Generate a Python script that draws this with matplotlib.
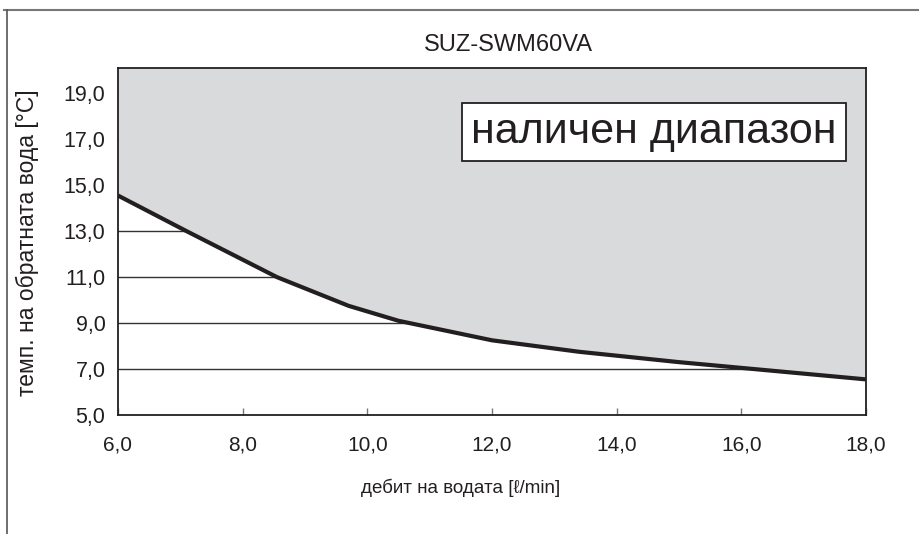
import numpy as np
import matplotlib.pyplot as plt
from matplotlib.lines import Line2D

plt.rcParams['font.family'] = ['Liberation Sans', 'DejaVu Sans']

# boundary of the available range (water flow -> min return water temp)
flow = [6.0, 7.1, 8.55, 9.7, 10.5, 12.0, 13.4, 15.0, 16.0, 18.0]
temp = [14.55, 13.0, 11.0, 9.75, 9.1, 8.25, 7.75, 7.3, 7.05, 6.55]

xticks = [6.0, 8.0, 10.0, 12.0, 14.0, 16.0, 18.0]
yticks = [5.0, 7.0, 9.0, 11.0, 13.0, 15.0, 17.0, 19.0]
ytop = 20.1

title = 'SUZ-SWM60VA'
xlabel = 'дебит на водата [ℓ/min]'
ylabel = 'темп. на обратната вода [°C]'
box_text = 'наличен диапазон'

fig = plt.figure(figsize=(9.2, 5.34), dpi=100)
ax = fig.add_axes([118/920, 1-415/534, 748/920, 347/534])

# gridlines under the fill
for y in yticks[1:]:
    ax.axhline(y, color='#333333', lw=1.0, zorder=1)

ax.fill_between(flow, temp, ytop, color='#d9dadc', zorder=2, lw=0)
ax.plot(flow, temp, color='#231f20', lw=3.0, zorder=3, solid_capstyle='butt')

ax.set_xlim(6, 18)
ax.set_ylim(5, ytop)
ax.set_xticks(xticks)
ax.set_yticks(yticks)
ax.set_xticklabels([f'{v:.1f}'.replace('.', ',') for v in xticks], fontsize=15)
ax.set_yticklabels([f'{v:.1f}'.replace('.', ',') for v in yticks], fontsize=15.5)
ax.tick_params(axis='x', direction='in', length=5, width=1, color='#777777', pad=15, labelcolor='#231f20')
ax.tick_params(axis='y', length=0, pad=9, labelcolor='#231f20')

for s in ax.spines.values():
    s.set_color('#231f20')
    s.set_linewidth(1.3)
    s.set_zorder(4)

ax.set_xlabel(xlabel, fontsize=13.5, color='#231f20')
ax.xaxis.set_label_coords((461-118)/748, -(488-415)/347)
ax.xaxis.label.set_va('center')
ax.set_ylabel(ylabel, fontsize=16.5, color='#231f20')
ax.yaxis.set_label_coords(-(118-27)/748, (415-243)/347)
ax.yaxis.label.set_va('center')

fig.text(508/920, 1-45/534, title, fontsize=17, color='#231f20', ha='center', va='center')

ax.text((654-118)/748, (415-132)/347, box_text, transform=ax.transAxes, fontsize=31,
        color='#231f20', ha='center', va='center', zorder=5,
        bbox=dict(boxstyle='square,pad=0.22', fc='white', ec='#231f20', lw=1.3))

# outer frame lines
fig.add_artist(Line2D([4/920, 1], [1-10/534, 1-10/534], color='#777777', lw=1.5))
fig.add_artist(Line2D([7/920, 7/920], [0, 1-10/534], color='#555555', lw=1.2))

fig.savefig('out.png', dpi=100)
